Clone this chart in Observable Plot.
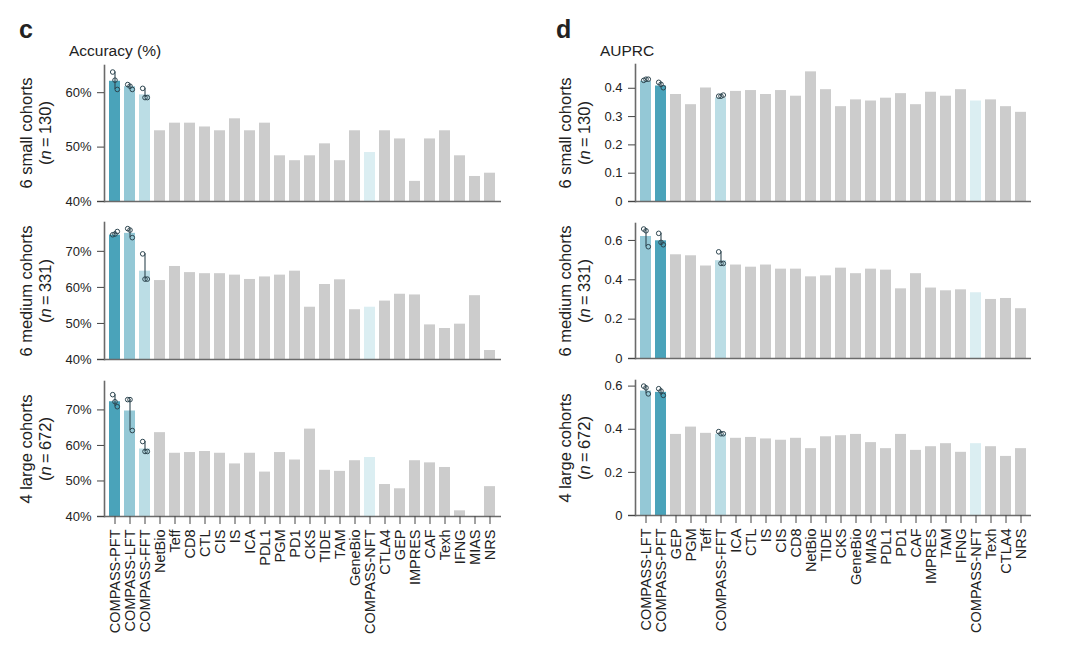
<!DOCTYPE html>
<html>
<head>
<meta charset="utf-8">
<script src="https://cdn.jsdelivr.net/npm/d3@7"></script>
<script src="https://cdn.jsdelivr.net/npm/@observablehq/plot@0.6"></script>
<style>
  body { margin: 0; background: #fff; }
  #root { position: relative; width: 1080px; height: 663px; overflow: hidden; font-family: "Liberation Sans", Arial, sans-serif; color: #222; }
  .panel { position: absolute; font-weight: bold; font-size: 25px; line-height: 1; }
  .metric { position: absolute; font-size: 15.5px; line-height: 1; }
  .ylab { position: absolute; white-space: nowrap; text-align: center; font-size: 16.5px; line-height: 19px; transform: translate(-50%, -50%) rotate(-90deg); }
</style>
</head>
<body>
<div id="root"></div>
<script>
// ---------------- data ----------------
const accCategories = ["COMPASS-PFT","COMPASS-LFT","COMPASS-FFT","NetBio","Teff","CD8","CTL","CIS","IS","ICA","PDL1","PGM","PD1","CKS","TIDE","TAM","GeneBio","COMPASS-NFT","CTLA4","GEP","IMPRES","CAF","Texh","IFNG","MIAS","NRS"];
const accSmall  = [62.1,61.1,59.6,53.0,54.4,54.4,53.7,53.0,55.2,53.0,54.4,48.4,47.5,48.4,50.6,47.5,53.0,49.0,53.0,51.5,43.7,51.5,53.0,48.4,44.6,45.2];
const accMedium = [74.5,75.0,64.5,61.9,65.8,64.1,63.8,63.8,63.4,62.2,62.9,63.4,64.5,54.5,60.8,62.1,53.8,54.5,56.2,58.1,57.9,49.6,48.6,49.8,57.7,42.5];
const accLarge  = [72.3,69.7,59.0,63.6,57.8,58.0,58.3,57.8,54.8,57.8,52.5,58.0,55.9,64.6,53.0,52.7,55.7,56.6,49.0,47.8,55.7,55.1,53.8,41.6,38.0,48.4];
const accRepModels = ["COMPASS-PFT","COMPASS-LFT","COMPASS-FFT"];
const accSmallReps  = [[63.8,62.3,60.6],[61.5,61.2,60.6],[60.8,59.1,59.1]];
const accMediumReps = [[74.6,74.8,75.5],[76.3,75.9,73.8],[69.3,62.3,62.3]];
const accLargeReps  = [[74.3,72.3,70.9],[72.9,72.9,64.2],[61.1,58.3,58.3]];

const auprcCategories = ["COMPASS-LFT","COMPASS-PFT","GEP","PGM","Teff","COMPASS-FFT","ICA","CTL","IS","CIS","CD8","NetBio","TIDE","CKS","GeneBio","MIAS","PDL1","PD1","CAF","IMPRES","TAM","IFNG","COMPASS-NFT","Texh","CTLA4","NRS"];
const auprcSmall  = [0.425,0.408,0.378,0.342,0.401,0.366,0.389,0.392,0.378,0.392,0.372,0.458,0.395,0.335,0.359,0.355,0.365,0.381,0.342,0.386,0.372,0.395,0.355,0.359,0.335,0.315];
const auprcMedium = [0.620,0.598,0.527,0.522,0.470,0.497,0.475,0.464,0.475,0.454,0.454,0.415,0.420,0.459,0.431,0.454,0.449,0.354,0.431,0.358,0.344,0.349,0.334,0.300,0.305,0.253];
const auprcLarge  = [0.577,0.571,0.376,0.410,0.381,0.376,0.358,0.362,0.355,0.349,0.358,0.310,0.365,0.370,0.376,0.338,0.310,0.376,0.302,0.319,0.333,0.293,0.333,0.319,0.274,0.310];
const auprcRepModels = ["COMPASS-LFT","COMPASS-PFT","COMPASS-FFT"];
const auprcSmallReps  = [[0.428,0.432,0.432],[0.421,0.414,0.402],[0.372,0.372,0.376]];
const auprcMediumReps = [[0.658,0.649,0.568],[0.636,0.590,0.578],[0.542,0.483,0.483]];
const auprcLargeReps  = [[0.600,0.592,0.564],[0.588,0.577,0.557],[0.389,0.379,0.379]];

const accDomains = [[40, 65], [40, 78], [40, 78]];
const accTicks = [[40, 50, 60], [40, 50, 60, 70], [40, 50, 60, 70]];
const auprcDomains = [[0, 0.484], [0, 0.686], [0, 0.626]];
const auprcTicks = [[0, 0.1, 0.2, 0.3, 0.4], [0, 0.2, 0.4, 0.6], [0, 0.2, 0.4, 0.6]];

const rowLabels = [["6 small cohorts", "130"], ["6 medium cohorts", "331"], ["4 large cohorts", "672"]];

// ---------------- style ----------------
const modelColors = {"COMPASS-PFT": "#4aa3ba", "COMPASS-LFT": "#94c8d6", "COMPASS-FFT": "#bbdde5", "COMPASS-NFT": "#dbeef2"};
const barGray = "#cccccc";
const FONT = '"Liberation Sans", Arial, sans-serif';
const root = document.getElementById("root");

function makeChart({cats, values, repModels, reps, domain, ticks, fmt, showX, svgLeft, frameLeft, frameRight, frameTop, frameBottom, po}) {
  const data = cats.map((c, i) => ({cat: c, value: values[i]}));
  const repData = [];
  reps.forEach((arr, j) => arr.forEach((v, k) => repData.push({cat: repModels[j], v, k})));
  const summ = reps.map((arr, j) => ({cat: repModels[j], lo: d3.min(arr), hi: d3.max(arr)}));
  const mt = 4, mb = showX ? 140 : 4;
  const height = frameBottom - frameTop + mt + mb;
  const offsets = [-2.3, 0, 2.3];
  const marks = [
    Plot.barY(data, {x: "cat", y1: domain[0], y2: "value", fill: d => modelColors[d.cat] || barGray, clip: true}),
    Plot.ruleX(summ, {x: "cat", y1: "lo", y2: "hi", stroke: "#2e4650", strokeWidth: 1.1}),
    ...offsets.map((dx, k) => Plot.dot(repData.filter(d => d.k === k), {x: "cat", y: "v", r: 2.3, stroke: "#2e4650", strokeWidth: 1, fill: "none", dx})),
    Plot.ruleY([domain[0]], {stroke: "#6a6a6a", strokeWidth: 1.6, insetLeft: -7}),
    Plot.frame({anchor: "left", stroke: "#6a6a6a", strokeWidth: 1.6}),
    Plot.axisY({ticks, tickFormat: fmt, tickSize: 7, tickPadding: 6, fontSize: 13, stroke: "#444", fill: "#222", label: null})
  ];
  if (showX) marks.push(Plot.axisX({tickRotate: -90, tickSize: 8, tickPadding: 5, fontSize: 14.5, stroke: "#444", fill: "#222", label: null}));
  const svg = Plot.plot({
    width: 540, height,
    marginTop: mt, marginBottom: mb,
    marginLeft: frameLeft - svgLeft, marginRight: svgLeft + 540 - frameRight,
    style: {fontFamily: FONT, color: "#222", background: "transparent", overflow: "visible"},
    x: {type: "band", domain: cats, paddingInner: 0.24, paddingOuter: po, axis: null, label: null},
    y: {domain, axis: null, label: null},
    marks
  });
  svg.style.position = "absolute";
  svg.style.left = svgLeft + "px";
  svg.style.top = (frameTop - mt) + "px";
  root.appendChild(svg);
}

function addText(cls, html, left, top) {
  const d = document.createElement("div");
  d.className = cls; d.innerHTML = html;
  d.style.left = left + "px"; d.style.top = top + "px";
  root.appendChild(d);
}

const accFrames = [[65, 201], [222, 359], [381, 516]];
const auprcFrames = [[64, 201], [223, 358], [380, 515]];
const pct = d => d + "%";
const dec = d => String(d);

const accVals = [accSmall, accMedium, accLarge];
const accRepVals = [accSmallReps, accMediumReps, accLargeReps];
const auprcVals = [auprcSmall, auprcMedium, auprcLarge];
const auprcRepVals = [auprcSmallReps, auprcMediumReps, auprcLargeReps];

for (let r = 0; r < 3; r++) {
  makeChart({cats: accCategories, values: accVals[r], repModels: accRepModels, reps: accRepVals[r],
    domain: accDomains[r], ticks: accTicks[r], fmt: pct, showX: r === 2,
    svgLeft: 0, frameLeft: 104, frameRight: 501, frameTop: accFrames[r][0], frameBottom: accFrames[r][1], po: 0.13});
  makeChart({cats: auprcCategories, values: auprcVals[r], repModels: auprcRepModels, reps: auprcRepVals[r],
    domain: auprcDomains[r], ticks: auprcTicks[r], fmt: dec, showX: r === 2,
    svgLeft: 540, frameLeft: 635, frameRight: 1031, frameTop: auprcFrames[r][0], frameBottom: auprcFrames[r][1], po: 0.07});
  const [l1, n] = rowLabels[r];
  const lab = `${l1}<br>(<i>n</i>&#8201;=&#8201;${n})`;
  addText("ylab", lab, 36, (accFrames[r][0] + accFrames[r][1]) / 2);
  addText("ylab", lab, 575, (auprcFrames[r][0] + auprcFrames[r][1]) / 2);
}

addText("panel", "c", 19, 17);
addText("panel", "d", 556, 17);
addText("metric", "Accuracy (%)", 69, 43);
addText("metric", "AUPRC", 600, 43);
</script>
</body>
</html>
